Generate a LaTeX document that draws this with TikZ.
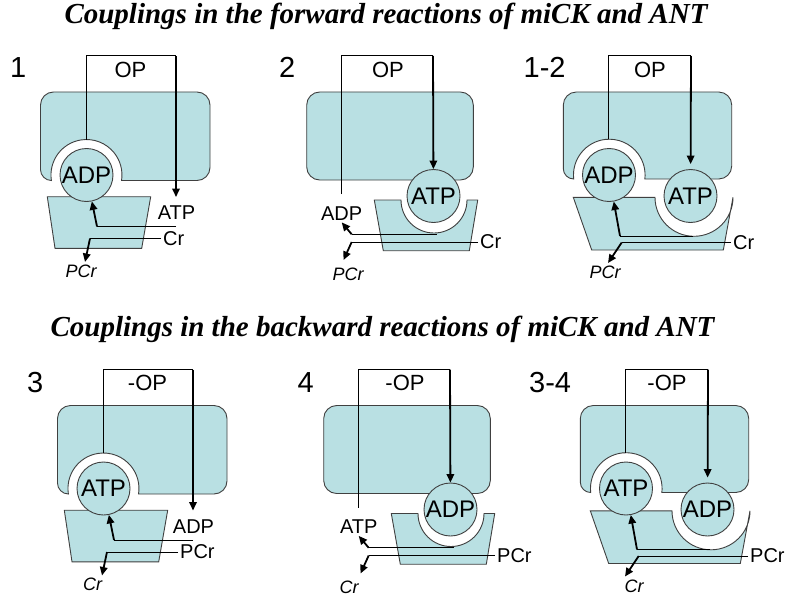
\documentclass[tikz,border=0pt]{standalone}
\usepackage{fontspec}
\setmainfont{Liberation Sans}
\newfontfamily\titlefont{Liberation Serif}
\usepackage{tikz}
\usetikzlibrary{arrows.meta}
\definecolor{protfill}{RGB}{185,224,227}
\definecolor{protline}{RGB}{64,64,64}
\tikzset{
  protein/.style={draw=protline,fill=protfill,line width=0.9pt},
  substrate/.style={circle,draw=protline,fill=protfill,line width=0.9pt,
    minimum size=53pt,inner sep=0pt,font=\fontsize{24}{24}\selectfont},
  wire/.style={line width=1pt,draw=black},
  arr/.style={-{Triangle[length=8.5pt,width=7.5pt]},line width=1.8pt,draw=black}
}

\begin{document}
\begin{tikzpicture}[
  x=1pt,y=1pt,
  heading/.style={font=\titlefont\fontsize{29}{29}\selectfont\bfseries\itshape,
    anchor=base,inner sep=0pt},
  panelno/.style={font=\fontsize{29}{29}\selectfont,anchor=base west,inner sep=0pt},
  oplabel/.style={font=\fontsize{22}{22}\selectfont,inner sep=0pt},
  sidelabel/.style={font=\fontsize{20}{20}\selectfont,inner sep=2pt},
  prodlabel/.style={font=\fontsize{18}{18}\selectfont\itshape,inner sep=1pt,anchor=north}
]

  \path[use as bounding box,fill=white] (0,0) rectangle (791,-599);

  \node[heading] (fwd) at (386,-23.5)
    {Couplings in the forward reactions of miCK and ANT};
  \node[heading] (bwd) at (382.5,-336)
    {Couplings in the backward reactions of miCK and ANT};

  \node[panelno] (no1)  at (10,-78)     {1};
  \node[panelno] (no2)  at (279,-78)    {2};
  \node[panelno] (no12) at (523.5,-78)  {1-2};
  \node[panelno] (no3)  at (27,-392)    {3};
  \node[panelno] (no4)  at (297.5,-392) {4};
  \node[panelno] (no34) at (529,-392)   {3-4};

  % row 1: forward, row 2: backward
  \foreach \dx/\dy/\opl/\subA/\subB/\crA/\crB/\offA/\offB/\offC in
    {0/0/OP/ADP/ATP/Cr/PCr/0/0/0,
     17/313.5/-OP/ATP/ADP/PCr/Cr/-5.5/-16/12}{

  \begin{scope}[xshift=\dx pt,yshift=-\dy pt]
    \coordinate (a1) at (86.5,-139.5);
    \coordinate (a2) at (176,-56);
    \coordinate (a3) at (176,-197);
    \coordinate (a4) at (176,-226.5);
    \coordinate (a5) at (97,-226.5);
    \coordinate (a6) at (90,-238.5);
    \coordinate (a7) at (85,-262);

    \draw[protein] (40.5,-169.6) arc[start angle=180,end angle=270,radius=10.9]
      arc[start angle=188.9,end angle=-8.9,radius=35.5]
      -- (197,-180.5) arc[start angle=270,end angle=360,radius=13]
      -- (210,-105) arc[start angle=0,end angle=90,radius=13]
      -- (53.5,-92) arc[start angle=90,end angle=180,radius=13] -- cycle;
    \draw[protein] (47.3,-196.7) -- (150.7,-196.7) -- (141.7,-248.3)
      -- (55,-248.3) -- cycle;

    \node[substrate] (s1) at (86.5,-175) {\subA};
    \node[oplabel] (op1) at (130.5,-69.5) {\opl};
    \node[sidelabel] (x1) at (176.5,-213) {\subB};
    \node[sidelabel,anchor=west] (c1) at (161,-238.5) {\crA};
    \node[prodlabel] (p1) at (81+\offA,-263.5) {\crB};

    \draw[wire] (a1) |- (a2);
    \draw[arr] (a2) -- (a3);
    \draw[wire] (a4) -- (a5);
    \draw[arr] (a5) -- (s1);
    \draw[wire] (c1) -- (a6);
    \draw[arr] (a6) -- (a7);
  \end{scope}

  \begin{scope}[xshift=\dx pt,yshift=-\dy pt]
    \coordinate (b1) at (341,-194);
    \coordinate (b2) at (433,-56);
    \coordinate (b3) at (436.7,-234.3);
    \coordinate (b4) at (351.7,-234.3);
    \coordinate (b5) at (351.7,-242);
    \coordinate (b6) at (343.5,-260);

    \draw[protein,rounded corners=13] (306.7,-92) rectangle (473.3,-180);
    \draw[protein] (374.3,-200) -- (401,-200)
      arc[start angle=180,end angle=360,radius=33]
      -- (477.7,-200) -- (469.3,-250.7) -- (383.3,-250.7) -- cycle;

    \node[substrate] (s2) at (433.5,-196) {\subB};
    \node[oplabel] (op2) at (388,-69.5) {\opl};
    \node[sidelabel] (x2) at (341.7,-213.3) {\subA};
    \node[sidelabel,anchor=west] (c2) at (478,-242) {\crA};
    \node[prodlabel] (p2) at (348+\offB,-266.5) {\crB};

    \draw[wire] (b1) |- (b2);
    \draw[arr] (b2) -- (s2);
    \draw[wire] (b3) -- (b4);
    \draw[arr] (b4) -- (x2.south);
    \draw[wire] (c2) -- (b5);
    \draw[arr] (b5) -- (b6);
  \end{scope}

  \begin{scope}[xshift=\dx pt,yshift=-\dy pt]
    \coordinate (d1) at (608,-139);
    \coordinate (d2) at (691,-56);
    \coordinate (d3) at (693.3,-236);
    \coordinate (d4) at (620,-236);
    \coordinate (d5) at (621.7,-242.5);
    \coordinate (d6) at (608,-263);

    \draw[protein] (563.3,-168.6) arc[start angle=180,end angle=270,radius=10.4]
      arc[start angle=186.4,end angle=-6.4,radius=35.8]
      -- (718.7,-179) arc[start angle=270,end angle=360,radius=13]
      -- (731.7,-105) arc[start angle=0,end angle=90,radius=13]
      -- (576.3,-92) arc[start angle=90,end angle=180,radius=13] -- cycle;
    \draw[protein] (573.3,-197.3) -- (655,-197.3)
      arc[start angle=180,end angle=360,radius=39]
      -- (723.3,-250) -- (591.7,-250) -- cycle;

    \node[substrate] (s3) at (609,-175) {\subA};
    \node[substrate] (s4) at (690.5,-196) {\subB};
    \node[oplabel] (op3) at (650,-69.5) {\opl};
    \node[sidelabel,anchor=west] (c3) at (731,-242.5) {\crA};
    \node[prodlabel] (p3) at (605+\offC,-265) {\crB};

    \draw[wire] (d1) |- (d2);
    \draw[arr,shorten >=5pt] (d2) -- (s4);
    \draw[wire] (d3) -- (d4);
    \draw[arr] (d4) -- (s3);
    \draw[wire] (c3) -- (d5);
    \draw[arr] (d5) -- (d6);
  \end{scope}
  }
\end{tikzpicture}
\end{document}
